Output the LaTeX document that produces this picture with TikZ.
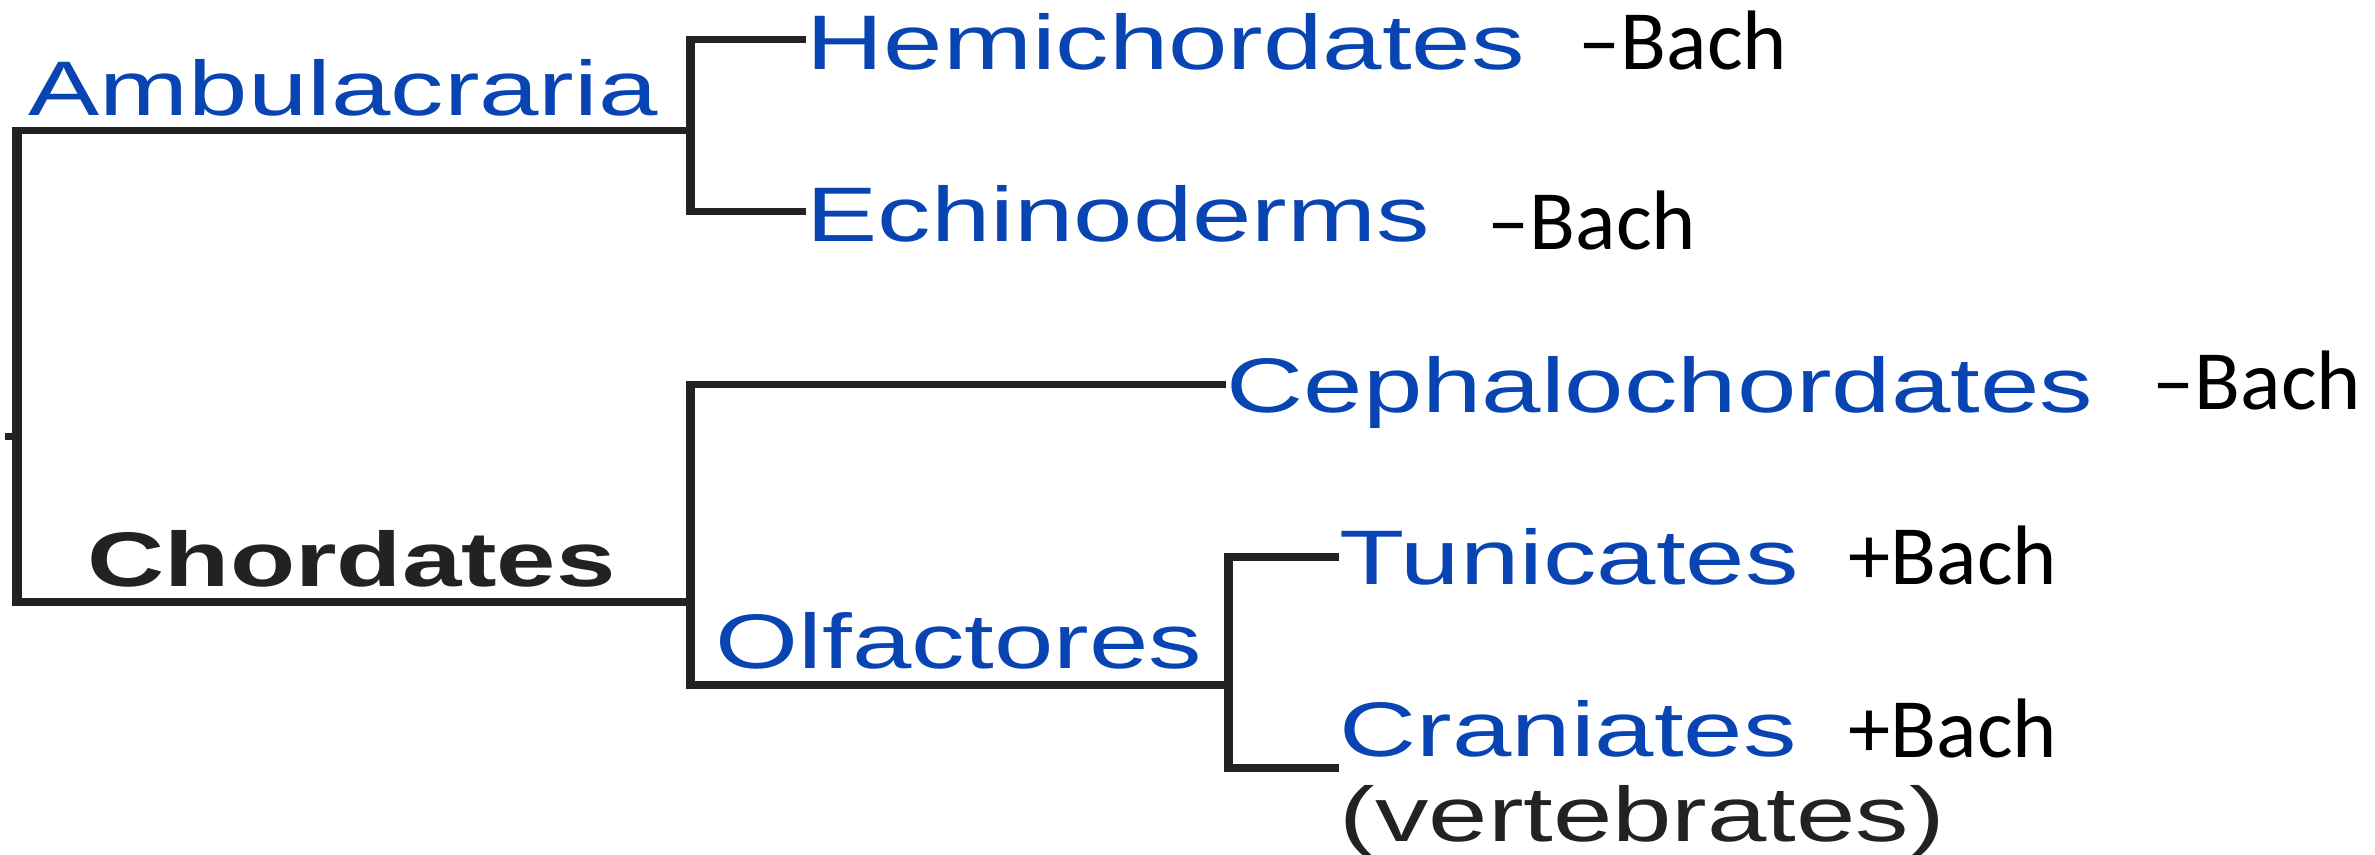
\documentclass[tikz,border=0pt]{standalone}
\usepackage{fontspec}
\setmainfont{Liberation Sans}
\newfontfamily\cladefont[FakeStretch=1.38]{Liberation Sans}
\newfontfamily\bachfont{Carlito}
\definecolor{cladeblue}{RGB}{8,68,178}
\definecolor{branchgray}{RGB}{34,34,34}
\begin{document}
\begin{tikzpicture}[x=0.01cm,y=-0.01cm,
  hbr/.style={draw=branchgray,line width=0.07cm,line cap=butt},
  vbr/.style={draw=branchgray,line width=0.09cm,line cap=butt,shorten <=-0.035cm,shorten >=-0.035cm},
  taxon/.style={anchor=base west,inner sep=0pt,text=cladeblue,font=\cladefont\fontsize{22pt}{26pt}\selectfont},
  cladebold/.style={anchor=base west,inner sep=0pt,text=branchgray,font=\cladefont\bfseries\fontsize{22pt}{26pt}\selectfont},
  plain/.style={anchor=base west,inner sep=0pt,text=branchgray,font=\cladefont\fontsize{22pt}{26pt}\selectfont},
  bach/.style={anchor=base west,inner sep=0pt,text=black,font=\bachfont\fontsize{24pt}{28pt}\selectfont}]
\useasboundingbox (0,0) rectangle (2375,855);

% labels
\node[taxon] (amb) at (28,116) {Ambulacraria};
\node[taxon] (hemi) at (806,70) {Hemichordates};
\node[bach] (hemiB) at (1578,70) {–Bach};
\node[taxon] (echi) at (806,242) {Echinoderms};
\node[bach] (echiB) at (1487,250) {–Bach};
\node[taxon] (ceph) at (1226,413) {Cephalochordates};
\node[bach] (cephB) at (2152,410) {–Bach};
\node[cladebold] (chord) at (87,587) {Chordates};
\node[taxon] (olf) at (715,669) {Olfactores};
\node[taxon] (tuni) at (1339,585) {Tunicates};
\node[bach] (tuniB) at (1848,584) {+Bach};
\node[taxon] (cran) at (1339,756) {Craniates};
\node[bach] (cranB) at (1848,757) {+Bach};
\node[plain] (vert) at (1339,841) {(vertebrates)};

% branch points
\coordinate (rootTop) at (17,131);
\coordinate (rootBot) at (17,602);
\coordinate (rootTick) at (5,437);
\coordinate (ambK) at (690,131);
\coordinate (ambTop) at (690,40);
\coordinate (ambBot) at (690,212);
\coordinate (choK) at (690,602);
\coordinate (choTop) at (690,385);
\coordinate (choBot) at (690,685);
\coordinate (olfK) at (1228,685);
\coordinate (olfTop) at (1228,557);
\coordinate (olfBot) at (1228,768);

% horizontal connectors
\draw[hbr] (rootTop) -- (ambK);
\draw[hbr] (rootBot) -- (choK);
\draw[hbr] (rootTick) -- (rootTick -| rootTop);
\draw[hbr] (ambTop) -- (hemi.west |- ambTop);
\draw[hbr] (ambBot) -- (echi.west |- ambBot);
\draw[hbr] (choTop) -- (ceph.west |- choTop);
\draw[hbr] (choBot) -- (olfK);
\draw[hbr] (olfTop) -- (tuni.west |- olfTop);
\draw[hbr] (olfBot) -- (cran.west |- olfBot);
% vertical connectors
\draw[vbr] (rootTop) -- (rootBot);
\draw[vbr] (ambTop) -- (ambBot);
\draw[vbr] (choTop) -- (choBot);
\draw[vbr] (olfTop) -- (olfBot);
\end{tikzpicture}
\end{document}
